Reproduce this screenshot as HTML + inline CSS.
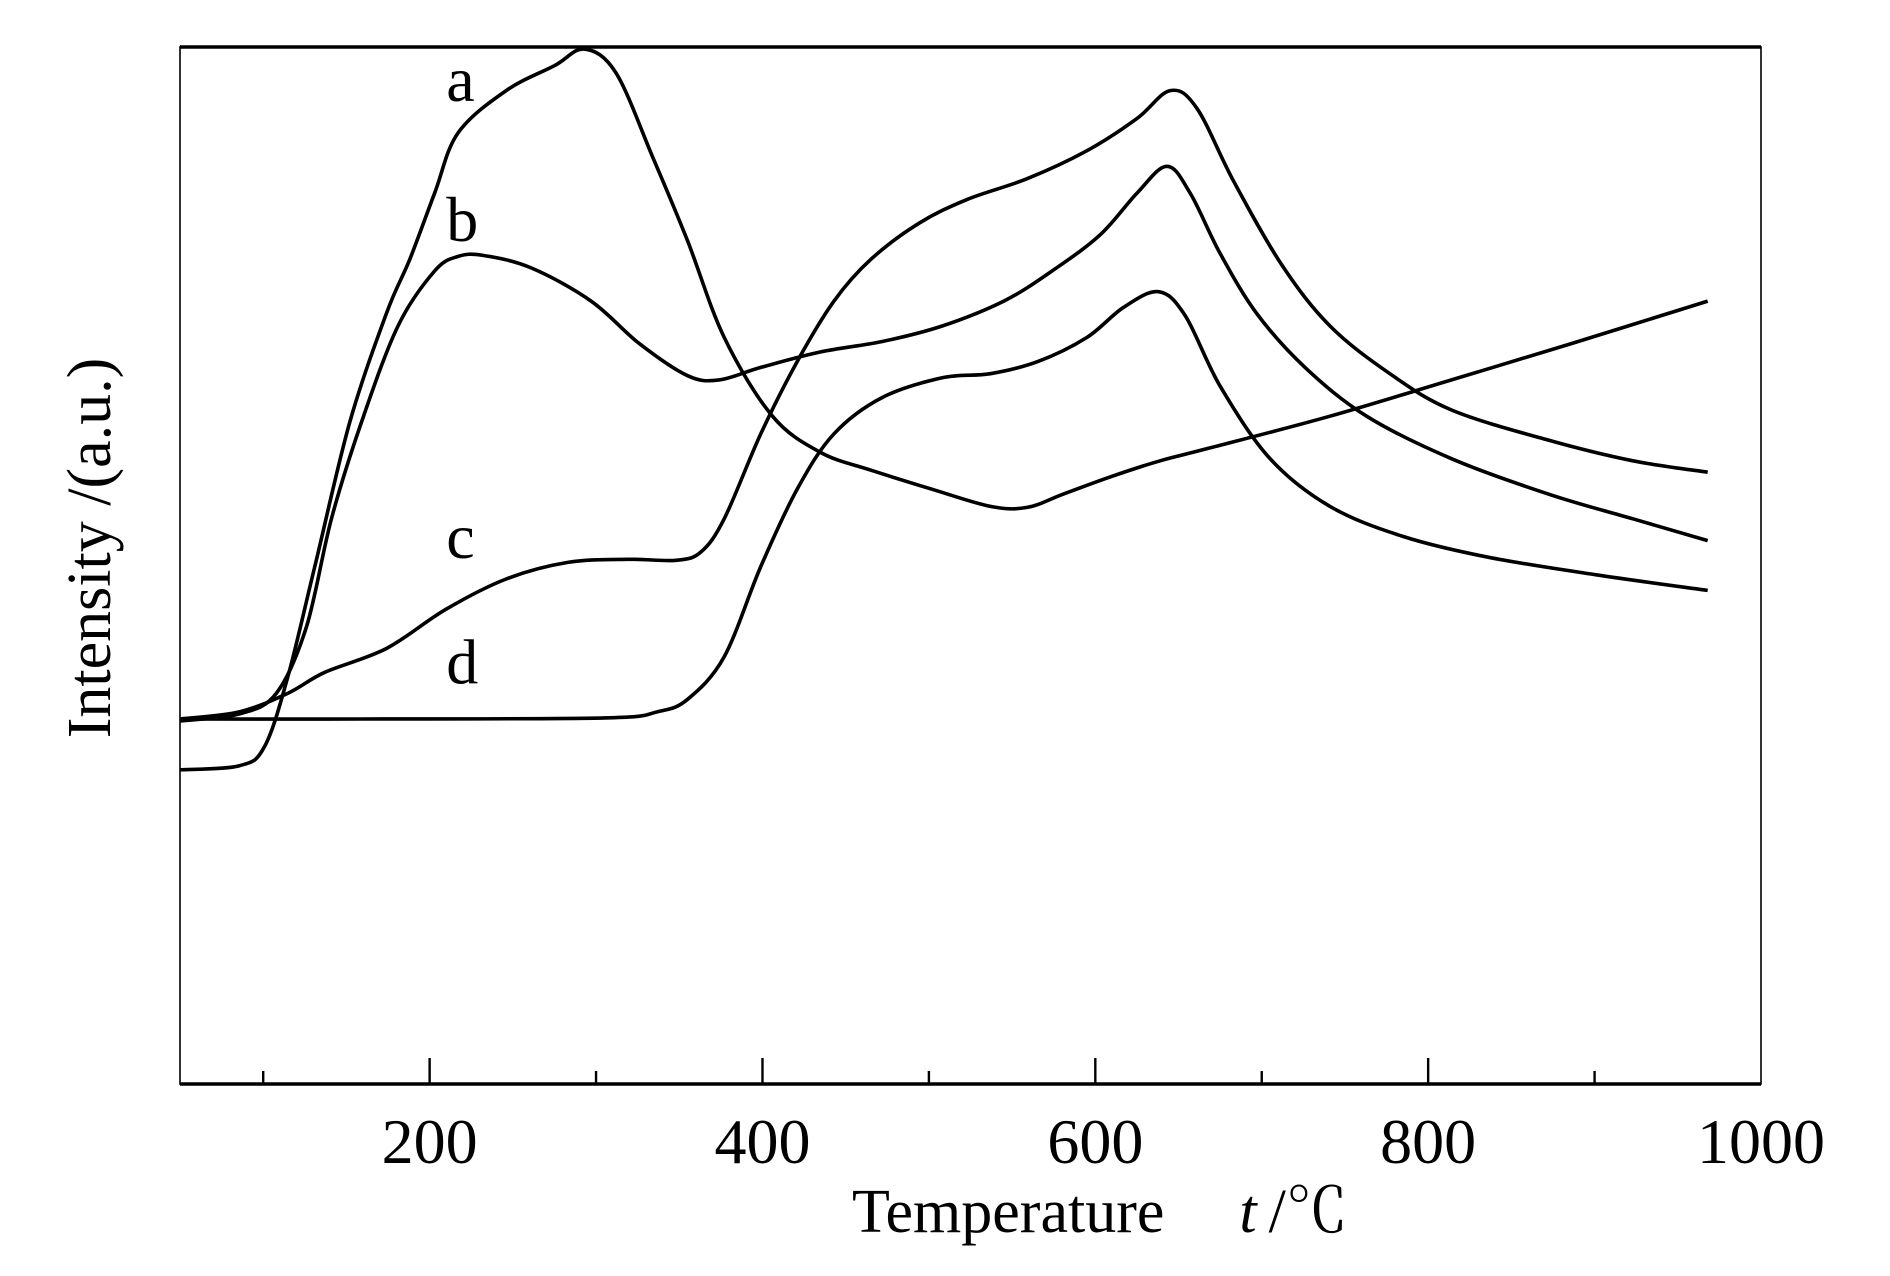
<!DOCTYPE html>
<html><head><meta charset="utf-8"><style>
html,body{margin:0;padding:0;background:#fff;}
svg{display:block;}
text{font-family:"Liberation Serif","Noto Serif CJK SC",serif;fill:#000;}
</style></head><body>
<svg id="chart" width="1890" height="1276" viewBox="0 0 1890 1276" xmlns="http://www.w3.org/2000/svg">
<g id="plot"></g>
<g id="axes"></g>
<text x="0" y="0" font-size="62" text-anchor="middle" transform="translate(110,548) rotate(-90)">Intensity /(a.u.)</text>
<text x="852" y="1232" font-size="62">Temperature<tspan dx="75" font-style="italic">t</tspan><tspan dx="12">/℃</tspan></text>
</svg>
<script>
const xTickValues = [200, 400, 600, 800, 1000];
const xMinorTicks = [100, 300, 500, 700, 900];
const curveNames = ['a', 'b', 'c', 'd'];
const aT = [50,86,101,115,131,152,174,188,203,217,246,275,293,312,334,355,377,406,435,465,501,537,559,581,610,639,668,741,814,886,968];
const aI = [30.3,30.7,32.6,39.4,49.9,63.8,74.3,79.5,85.9,91.7,95.8,98.2,99.8,97.5,89.4,81.3,72.0,64.4,60.9,59.2,57.4,55.7,55.6,56.9,58.6,60.1,61.3,64.4,67.9,71.4,75.5];
const bT = [50,86,108,126,141,159,181,203,217,232,261,297,326,355,374,399,435,472,508,545,574,603,625,643,657,675,697,726,763,814,872,923,968];
const bI = [35.0,35.7,37.7,44.1,54.5,63.8,73.1,78.4,79.8,79.9,78.7,75.5,71.4,68.3,67.9,69.1,70.6,71.6,73.1,75.5,78.4,81.9,85.9,88.5,85.9,80.1,74.3,69.1,64.4,60.3,56.9,54.5,52.4];
const cT = [50,86,115,137,174,210,246,283,319,348,363,377,399,421,443,465,494,523,559,595,625,645,661,683,712,741,777,814,872,923,968];
const cI = [35.2,35.9,37.7,39.7,42.0,45.8,48.7,50.3,50.6,50.5,51.3,54.5,62.7,69.7,75.5,79.5,83.0,85.3,87.3,90.0,93.1,95.8,94.1,87.1,79.0,73.1,68.5,65.0,62.1,60.1,59.0];
const dT = [50,159,305,337,355,377,399,421,443,472,508,537,566,595,617,638,654,675,705,741,785,836,901,968];
const dI = [35.2,35.2,35.3,35.9,37.1,41.2,49.9,57.4,62.7,66.2,68.1,68.5,69.7,72.0,74.9,76.4,74.1,67.3,60.3,55.7,52.8,50.8,49.1,47.6];
const labelT = [210, 210, 210, 210];
const labelI = [94.8, 81.3, 50.7, 38.6];

const X0=180, X1=1761, Y0=1084, Y1=47, TMIN=50, TMAX=1000;
function xs(t){return X0+(t-TMIN)*(X1-X0)/(TMAX-TMIN);}
function ys(v){return Y0-v*(Y0-Y1)/100;}
const NS='http://www.w3.org/2000/svg';
const plotG=document.getElementById('plot'), axesG=document.getElementById('axes');
function mk(tag,attrs,parent){const e=document.createElementNS(NS,tag);for(const k in attrs)e.setAttribute(k,attrs[k]);parent.appendChild(e);return e;}
function pathFor(T,I){
  const p=T.map((t,i)=>[xs(t),ys(I[i])]);
  let d='M'+p[0][0].toFixed(1)+','+p[0][1].toFixed(1);
  for(let i=0;i<p.length-1;i++){
    const p0=p[Math.max(0,i-1)],p1=p[i],p2=p[i+1],p3=p[Math.min(p.length-1,i+2)];
    const c1=[p1[0]+(p2[0]-p0[0])/6,p1[1]+(p2[1]-p0[1])/6];
    const c2=[p2[0]-(p3[0]-p1[0])/6,p2[1]-(p3[1]-p1[1])/6];
    d+='C'+c1[0].toFixed(1)+','+c1[1].toFixed(1)+' '+c2[0].toFixed(1)+','+c2[1].toFixed(1)+' '+p2[0].toFixed(1)+','+p2[1].toFixed(1);
  }
  return d;
}
const seriesList=[[aT,aI],[bT,bI],[cT,cI],[dT,dI]];
seriesList.forEach((s,k)=>{
  const e=mk('path',{d:pathFor(s[0],s[1]),fill:'none',stroke:'#000','stroke-width':3.6,'stroke-linejoin':'round'},plotG);
  
  
  const l=mk('text',{x:xs(labelT[k]),y:ys(labelI[k]),'font-size':64},plotG);
  
  
  l.textContent=curveNames[k];
});
const fr=mk('rect',{x:X0,y:Y1,width:X1-X0,height:Y0-Y1,fill:'none',stroke:'#000','stroke-width':1.6},axesG);


const topAxisLine=mk('line',{x1:X0,y1:Y1,x2:X1,y2:Y1,stroke:'#000','stroke-width':3.5},axesG);


const bottomAxisLine=mk('line',{x1:X0,y1:Y0,x2:X1,y2:Y0,stroke:'#000','stroke-width':3.5},axesG);


xTickValues.forEach(v=>{
  if(v<TMAX){
    const t=mk('line',{x1:xs(v),y1:Y0,x2:xs(v),y2:Y0-26,stroke:'#000','stroke-width':2.4},axesG);
    
    
  }
  const lb=mk('text',{x:xs(v),y:1163,'font-size':64,'text-anchor':'middle'},axesG);
  
  
  lb.textContent=v;
});
xMinorTicks.forEach(v=>{
  const t=mk('line',{x1:xs(v),y1:Y0,x2:xs(v),y2:Y0-13,stroke:'#000','stroke-width':2.4},axesG);
  
  
});
</script>
</body></html>
